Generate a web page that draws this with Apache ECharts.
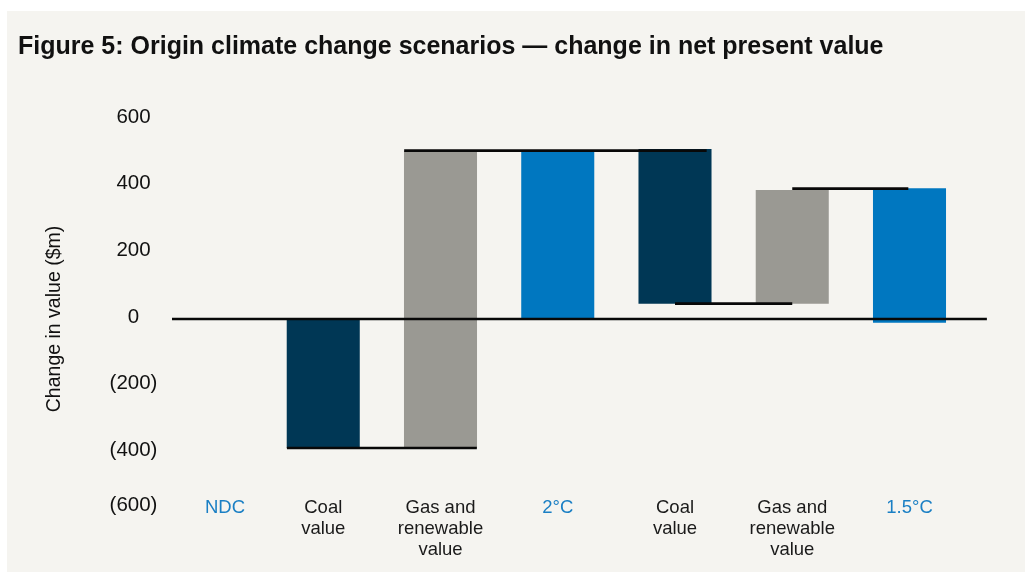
<!DOCTYPE html>
<html>
<head>
<meta charset="utf-8">
<script src="https://cdn.jsdelivr.net/npm/echarts@6/dist/echarts.min.js"></script>
<style>
  html, body { margin: 0; padding: 0; background: #ffffff; }
  #chart { position: absolute; left: 7px; top: 11px; width: 1018px; height: 561px; }
</style>
</head>
<body>
<div id="chart"></div>
<script>
// ---- Data ----
const categories = ['NDC', 'Coal\nvalue', 'Gas and\nrenewable\nvalue', '2°C', 'Coal\nvalue', 'Gas and\nrenewable\nvalue', '1.5°C'];
const totalCategories = [0, 3, 6];            // indices of scenario totals (blue labels)
const barLow  = [null, -387, -387, 0, 46, 46, -11];
const barHigh = [null, 0, 505, 503, 510, 387, 392];
const barKind = ['', 'coal', 'gas', 'total', 'coal', 'gas', 'total'];
// horizontal lines: zero baseline + waterfall connectors  [from x, to x, level]
const lineFrom  = [-0.29, 0.69, 1.69, 4.0, 5.0];
const lineTo    = [6.66, 2.31, 4.27, 5.0, 5.99];
const lineLevel = [0, -387, 505, 46, 391];
const yTicks = [-600, -400, -200, 0, 200, 400, 600];

// ---- Styles ----
const kindColor = { coal: '#003755', gas: '#9a9993', total: '#0077c0' };
const FONT = 'Liberation Sans';

const barData = [];
for (let i = 0; i < categories.length; i++) {
  if (barLow[i] !== null) barData.push([i, barLow[i], barHigh[i]]);
}
const lineData = lineLevel.map((y, k) => [lineFrom[k], lineTo[k], y]);

const chart = echarts.init(document.getElementById('chart'), null, { renderer: 'canvas' });
chart.setOption({
  backgroundColor: '#f5f4f0',
  animation: false,
  title: {
    text: 'Figure 5: Origin climate change scenarios — change in net present value',
    left: 6, top: 19,
    textStyle: { fontFamily: FONT, fontWeight: 'bold', fontSize: 25, color: '#111' }
  },
  grid: { left: 199, right: 115.5, top: 108, bottom: 53 },
  xAxis: {
    type: 'value', min: 0, max: 6, interval: 1,
    axisLine: { show: false }, axisTick: { show: false }, splitLine: { show: false },
    axisLabel: {
      margin: -22,
      verticalAlign: 'top',
      formatter: function (v) {
        const i = Math.round(v);
        const name = categories[i];
        if (i === 0) return '{ndc|' + name + '}';
        if (totalCategories.indexOf(i) >= 0) return '{tot|' + name + '}';
        return name.split('\n').map(s => '{n|' + s + '}').join('\n');
      },
      rich: {
        n: { fontFamily: FONT, fontSize: 18.5, color: '#1a1a1a', lineHeight: 21, align: 'center' },
        tot: { fontFamily: FONT, fontSize: 18.5, color: '#1a7fc4', lineHeight: 21 },
        ndc: { fontFamily: FONT, fontSize: 18.5, color: '#1a7fc4', lineHeight: 21, padding: [0, 0, 0, 38] }
      }
    }
  },
  yAxis: {
    type: 'value', min: -600, max: 600, interval: 200,
    name: 'Change in value ($m)',
    nameLocation: 'middle',
    nameGap: 141,
    nameRotate: 90,
    nameTextStyle: { fontFamily: FONT, fontSize: 19.5, color: '#111' },
    axisLine: { show: false }, axisTick: { show: false }, splitLine: { show: false },
    axisLabel: {
      margin: 72.5,
      align: 'center',
      formatter: function (v) {
        const s = v < 0 ? '(' + Math.abs(v) + ')' : String(v);
        return v === yTicks[0] ? '{low|' + s + '}' : '{l|' + s + '}';
      },
      rich: {
        l: { fontFamily: FONT, fontSize: 20.5, color: '#111', padding: [0, 0, 4, 0] },
        low: { fontFamily: FONT, fontSize: 20.5, color: '#111', padding: [0, 0, 28, 0] }
      }
    }
  },
  series: [{
    type: 'custom',
    clip: false,
    z: 2,
    data: barData,
    encode: { x: 0, y: [1, 2] },
    renderItem: function (params, api) {
      const x = api.value(0), lo = api.value(1), hi = api.value(2);
      const pTop = api.coord([x, hi]);
      const pBot = api.coord([x, lo]);
      const w = api.size([0.623, 0])[0];
      return {
        type: 'rect',
        shape: { x: pTop[0] - w / 2, y: pTop[1], width: w, height: pBot[1] - pTop[1] },
        style: { fill: kindColor[barKind[x]] }
      };
    }
  }, {
    type: 'custom',
    clip: false,
    z: 5,
    silent: true,
    data: lineData,
    encode: { x: [0, 1], y: 2 },
    renderItem: function (params, api) {
      const a = api.coord([api.value(0), api.value(2)]);
      const b = api.coord([api.value(1), api.value(2)]);
      return {
        type: 'line',
        shape: { x1: a[0], y1: a[1], x2: b[0], y2: b[1] },
        style: { stroke: '#080808', lineWidth: 2.7 }
      };
    }
  }]
});
</script>
</body>
</html>
